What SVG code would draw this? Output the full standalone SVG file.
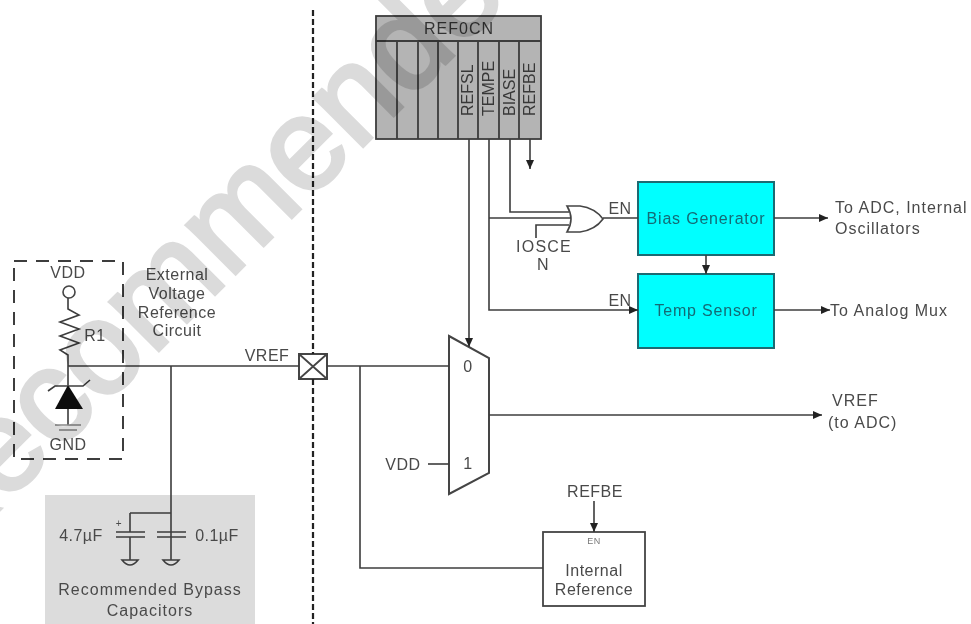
<svg xmlns="http://www.w3.org/2000/svg" width="971" height="624" viewBox="0 0 971 624">
<style>
text{font-family:"Liberation Sans",Arial,sans-serif;font-size:16px;letter-spacing:.5px;fill:#4a4a4a;text-anchor:middle}
.l{text-anchor:start;letter-spacing:1px}
.ln{fill:none;stroke:#3c3c3c;stroke-width:1.6}
.box{stroke:#3c3c3c;stroke-width:1.8}
.cy{fill:#00ffff;stroke:#1f6a72;stroke-width:2}
.cyt{fill:#136a75;letter-spacing:.8px}
.arr{marker-end:url(#a)}
.reg{font-size:16px;letter-spacing:0;text-anchor:start;fill:#383838}
.cap{letter-spacing:1px}
</style>
<defs>
<marker id="a" markerUnits="userSpaceOnUse" markerWidth="10" markerHeight="9" refX="9" refY="4.500" orient="auto"><path d="M0 .5L9 4.500L0 8.500z" fill="#222"/></marker>
<filter id="soft" x="0" y="0" width="100%" height="100%"><feGaussianBlur stdDeviation=".55"/></filter>
</defs>
<rect width="971" height="624" fill="#fff"/>
<g filter="url(#soft)">
<g id="bypass-capacitors">
<rect x="45" y="495" width="210" height="129" fill="#dcdcdc"/>
<path class="ln" d="M116 532H145M116 537H145M157 532H186M157 537H186M130 513V532M130 537V560M171 537V560M122 560Q130 570 138 560ZM163 560Q171 570 179 560Z"/>
<text x="81" y="541" style="font-size:16px">4.7µF</text>
<text x="217" y="541" style="font-size:16px">0.1µF</text>
<text x="119" y="527" style="font-size:10px">+</text>
<text class="cap" x="150" y="595">Recommended Bypass</text>
<text class="cap" x="150" y="616">Capacitors</text>
</g>
<g id="external-circuit">
<rect x="14" y="261" width="109" height="198" fill="none" stroke="#3c3c3c" stroke-width="2" stroke-dasharray="13 9"/>
<text x="68" y="278">VDD</text>
<circle cx="69" cy="292" r="6" fill="#fff" stroke="#444" stroke-width="1.6"/>
<path class="ln" d="M68 298V309L79 315L60 322L79 329L60 336L79 343L60 350L68 355V366M68 366V385M48 391L55 386H83L90 380M68 409V425"/>
<path d="M68 385L83 409H55Z" fill="#111"/>
<path d="M55 425H81M59 430H77" stroke="#888" stroke-width="1.500" fill="none"/>
<text x="68" y="450">GND</text>
<text x="95" y="341">R1</text>
<text x="177" y="280">External</text>
<text x="177" y="299">Voltage</text>
<text x="177" y="318">Reference</text>
<text x="177" y="336">Circuit</text>
</g>
<g id="vref-pin">
<text x="267" y="361">VREF</text>
<rect x="299" y="354" width="28" height="25" fill="#fff" stroke="#444" stroke-width="2"/>
<path d="M299 354L327 379M327 354L299 379" stroke="#444" stroke-width="1.800"/>
</g>
<g id="ref0cn">
<rect class="box" x="376" y="16" width="165" height="123" fill="#b4b4b4"/>
<path class="box" d="M376 41H541M397 41V139M418 41V139M438 41V139M458 41V139M478 41V139M499 41V139M519 41V139" fill="none"/>
<text x="459" y="34" style="letter-spacing:1px;fill:#333">REF0CN</text>
<text class="reg" transform="translate(473 116) rotate(-90)">REFSL</text>
<text class="reg" transform="translate(494 116) rotate(-90)">TEMPE</text>
<text class="reg" transform="translate(515 116) rotate(-90)">BIASE</text>
<text class="reg" transform="translate(535 116) rotate(-90)">REFBE</text>
</g>
<g id="or-gate">
<path d="M567 206H580Q595 208 603 219Q595 230 580 232H567Q575 219 567 206Z" fill="#fff" stroke="#444" stroke-width="1.600"/>
<text x="544" y="252" style="letter-spacing:1.200px">IOSCE</text>
<text x="543" y="270">N</text>
</g>
<g id="bias-generator">
<rect class="cy" x="638" y="182" width="136" height="73"/>
<text class="cyt" x="706" y="224">Bias Generator</text>
</g>
<g id="temp-sensor">
<rect class="cy" x="638" y="274" width="136" height="74"/>
<text class="cyt" x="706" y="316">Temp Sensor</text>
</g>
<g id="mux">
<path d="M449 336L489 358V473L449 494Z" fill="#fff" stroke="#444" stroke-width="2"/>
<text x="468" y="372">0</text>
<text x="468" y="469">1</text>
</g>
<g id="internal-reference">
<rect x="543" y="532" width="102" height="74" fill="#fff" stroke="#444" stroke-width="1.800"/>
<text x="594" y="544" style="font-size:9px;fill:#777">EN</text>
<text x="594" y="576">Internal</text>
<text x="594" y="595">Reference</text>
</g>
<g id="connectors">
<path class="ln" d="M68 366H299M327 366H449M171 366V513M130 513H171V532M171 537V532M360 366V568H543"/>
<path class="ln" d="M428 464H449"/>
<path class="ln arr" d="M469 139V347"/>
<path class="ln arr" d="M489 139V310H638"/>
<path class="ln" d="M489 218H571M510 139V212H569M536 238V225H569M603 218H638"/>
<path class="ln arr" d="M530 139V169"/>
<path class="ln arr" d="M706 255V274"/>
<path class="ln arr" d="M774 218H828"/>
<path class="ln arr" d="M774 310H830"/>
<path class="ln arr" d="M489 415H822"/>
<path class="ln arr" d="M594 501V532"/>
<path d="M313 10V354M313 379V624" fill="none" stroke="#222" stroke-width="2.200" stroke-dasharray="6 3"/>
</g>
<g id="labels">
<text x="403" y="470">VDD</text>
<text x="595" y="497">REFBE</text>
<text x="620" y="214">EN</text>
<text x="620" y="306">EN</text>
<text class="l" x="835" y="213">To ADC, Internal</text>
<text class="l" x="835" y="234">Oscillators</text>
<text class="l" x="830" y="316">To Analog Mux</text>
<text class="l" x="832" y="406">VREF</text>
<text class="l" x="828" y="428">(to ADC)</text>
</g>
<text id="watermark" transform="translate(-62 571) rotate(-45)" opacity=".14" style="font-size:130px;letter-spacing:0;text-anchor:start;fill:#000;stroke:#000;stroke-width:4px">Recommended</text>
</g>
</svg>
